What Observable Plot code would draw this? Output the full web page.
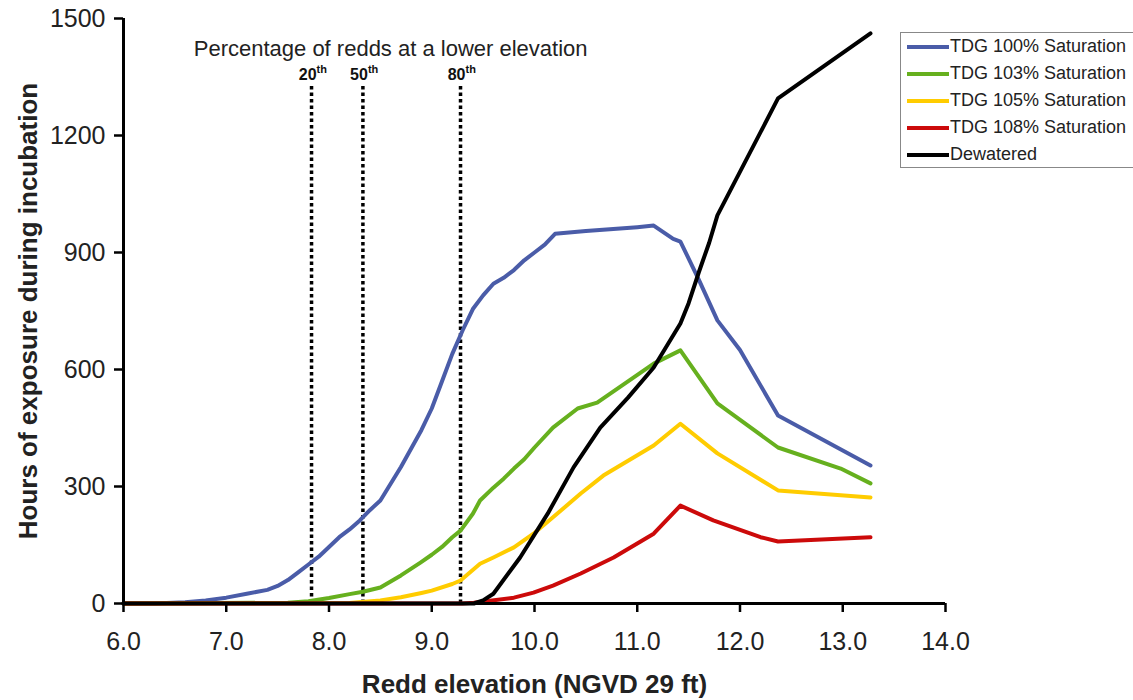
<!DOCTYPE html>
<html>
<head>
<meta charset="utf-8">
<script src="https://cdn.jsdelivr.net/npm/d3@7"></script>
<script src="https://cdn.jsdelivr.net/npm/@observablehq/plot@0.6"></script>
<style>
  body { margin: 0; background: #fff; font-family: "Liberation Sans", Arial, sans-serif; }
  #wrap { position: relative; width: 1133px; height: 700px; overflow: hidden; }
  #legend { position: absolute; left: 900px; top: 32px; width: 250px; height: 136px; border: 1.5px solid #888; background: #fff; box-sizing: border-box; }
  .row { position: absolute; left: 6px; height: 22px; display: flex; align-items: center; font-size: 18px; color: #222; white-space: nowrap; }
  .sw { width: 42px; height: 4px; margin-right: 1px; }
</style>
</head>
<body>
<div id="wrap"><div id="legend"></div></div>
<script>
const seriesNames = ["TDG 100% Saturation", "TDG 103% Saturation", "TDG 105% Saturation", "TDG 108% Saturation", "Dewatered"];
const seriesColors = ["#4a5ca8", "#66b01e", "#ffcc00", "#cc0a0a", "#000000"];

const x100 = [6.0, 6.3, 6.6, 6.8, 7.0, 7.2, 7.4, 7.5, 7.6, 7.7, 7.8, 7.9, 8.0, 8.1, 8.2, 8.3, 8.4, 8.5, 8.7, 8.9, 9.0, 9.1, 9.2, 9.3, 9.4, 9.5, 9.6, 9.7, 9.8, 9.9, 10.0, 10.1, 10.2, 10.5, 11.0, 11.16, 11.35, 11.42, 11.6, 11.78, 12.0, 12.37, 13.27];
const y100 = [0, 0, 3, 8, 15, 25, 35, 45, 60, 80, 100, 120, 145, 170, 190, 213, 240, 264, 350, 445, 500, 570, 640, 700, 755, 790, 820, 835, 855, 880, 900, 920, 948, 955, 965, 969, 935, 928, 830, 726, 650, 482, 354];

const x103 = [6.0, 7.6, 7.8, 8.0, 8.2, 8.33, 8.5, 8.7, 8.89, 9.0, 9.1, 9.2, 9.28, 9.4, 9.47, 9.6, 9.7, 9.8, 9.9, 10.0, 10.18, 10.42, 10.61, 11.16, 11.42, 11.78, 12.37, 12.98, 13.27];
const y103 = [0, 2, 6, 14, 24, 30, 41, 72, 105, 125, 145, 170, 187, 230, 264, 297, 320, 346, 370, 400, 451, 500, 515, 615, 649, 513, 400, 346, 308];

const x105 = [6.0, 8.2, 8.5, 8.7, 8.9, 9.0, 9.2, 9.28, 9.47, 9.6, 9.8, 9.99, 10.18, 10.45, 10.67, 11.16, 11.42, 11.78, 12.37, 13.27];
const y105 = [0, 1, 8, 16, 27, 33, 50, 59, 102, 118, 144, 179, 221, 282, 328, 405, 461, 385, 290, 272];

const x108 = [6.0, 9.3, 9.41, 9.8, 9.99, 10.18, 10.45, 10.77, 11.16, 11.42, 11.74, 12.2, 12.37, 13.27];
const y108 = [0, 0, 2, 15, 28, 46, 77, 118, 179, 251, 213, 170, 159, 170];

const xDew = [6.0, 9.41, 9.5, 9.6, 9.86, 10.13, 10.38, 10.64, 10.91, 11.16, 11.42, 11.5, 11.6, 11.7, 11.78, 12.37, 13.27];
const yDew = [0, 0, 8, 25, 118, 231, 349, 451, 528, 605, 718, 770, 850, 925, 995, 1295, 1462];

const percentileX = [7.83, 8.33, 9.28];
const percentileLabels = ["20", "50", "80"];
const xTicks = [6, 7, 8, 9, 10, 11, 12, 13, 14];
const yTicks = [0, 300, 600, 900, 1200, 1500];

const xs = [x100, x103, x105, x108, xDew];
const ys = [y100, y103, y105, y108, yDew];
const rows = [];
xs.forEach((xa, i) => xa.forEach((x, j) => rows.push({series: seriesNames[i], x, y: ys[i][j]})));
const pct = percentileX.map((x, i) => ({x, label: percentileLabels[i]}));

const font = "Liberation Sans, Arial, sans-serif";
const plot = Plot.plot({
  width: 1133,
  height: 700,
  marginLeft: 123,
  marginRight: 188,
  marginTop: 18,
  marginBottom: 97,
  style: {fontFamily: font, background: "transparent", overflow: "visible"},
  x: {domain: [6, 14]},
  y: {domain: [0, 1500]},
  color: {domain: seriesNames, range: seriesColors},
  marks: [
    Plot.ruleX(pct, {x: "x", y1: 0, y2: 1331, stroke: "#000", strokeWidth: 3.5, strokeDasharray: "3.5,3"}),
    Plot.line(rows, {x: "x", y: "y", z: "series", stroke: "series", strokeWidth: 4, strokeLinejoin: "round", strokeLinecap: "round"}),
    Plot.ruleY([0], {stroke: "#000", strokeWidth: 3}),
    Plot.ruleX([6], {stroke: "#000", strokeWidth: 3}),
    Plot.axisX({ticks: xTicks, tickSize: 9, strokeWidth: 2.5, tickPadding: 20, tickFormat: d3.format(".1f"), fontSize: 25, fill: "#222", label: null}),
    Plot.axisY({ticks: yTicks, tickSize: 9, strokeWidth: 2.5, tickPadding: 9, tickFormat: d3.format("d"), fontSize: 25, fill: "#222", label: null}),
    Plot.text(["Redd elevation (NGVD 29 ft)"], {frameAnchor: "bottom", lineAnchor: "middle", dy: 81, fontSize: 26, fontWeight: "bold", fill: "#222"}),
    Plot.text(["Hours of exposure during incubation"], {frameAnchor: "left", textAnchor: "middle", lineAnchor: "middle", dx: -95, rotate: -90, fontSize: 26, fontWeight: "bold", fill: "#222"}),
    Plot.text(["Percentage of redds at a lower elevation"], {x: 8.6, y: 1423, lineAnchor: "middle", fontSize: 22, fill: "#222"}),
    Plot.text(pct, {x: "x", y: 1342, text: "label", textAnchor: "end", lineAnchor: "bottom", dx: 5, fontSize: 16, fontWeight: "bold", fill: "#111"}),
    Plot.text(pct, {x: "x", y: 1342, text: () => "th", textAnchor: "start", lineAnchor: "bottom", dx: 5, dy: -7, fontSize: 11, fontWeight: "bold", fill: "#111"})
  ]
});
document.getElementById("wrap").prepend(plot);

const legend = document.getElementById("legend");
seriesNames.forEach((name, i) => {
  const r = document.createElement("div");
  r.className = "row";
  r.style.top = (2.5 + i * 27) + "px";
  r.innerHTML = `<div class="sw" style="background:${seriesColors[i]}"></div><span>${name}</span>`;
  legend.appendChild(r);
});
</script>
</body>
</html>
